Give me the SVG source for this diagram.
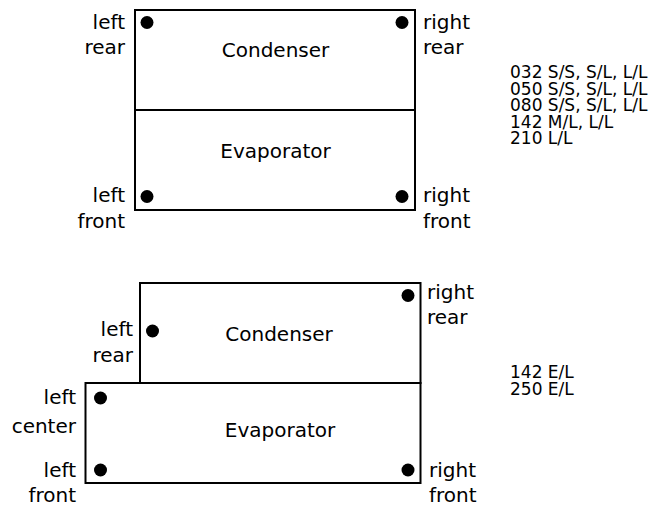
<svg xmlns="http://www.w3.org/2000/svg" width="658" height="506" viewBox="0 0 658 506">
<style>
.box{fill:#fff;stroke:#000;stroke-width:2}
.dot{fill:#000}
.t{font-family:"DejaVu Sans",Verdana,sans-serif;font-size:20px;fill:#000}
.r{text-anchor:end}
.m{text-anchor:middle}
.l{font-family:"DejaVu Sans",Verdana,sans-serif;font-size:17px;fill:#000}
</style>
<rect x="0" y="0" width="658" height="506" fill="#fff"/>
<g id="top-unit">
<rect class="box" x="135" y="10" width="280" height="200"/>
<line x1="135" y1="110" x2="415" y2="110" stroke="#000" stroke-width="2"/>
<text class="t m" x="275.5" y="57">Condenser</text>
<text class="t m" x="275.5" y="158">Evaporator</text>
<circle class="dot" cx="147" cy="22.5" r="6.5"/>
<circle class="dot" cx="402" cy="22.5" r="6.5"/>
<circle class="dot" cx="147" cy="196.5" r="6.5"/>
<circle class="dot" cx="402" cy="196.5" r="6.5"/>
<text class="t r" x="125" y="28.5">left</text>
<text class="t r" x="125" y="54">rear</text>
<text class="t" x="423" y="28.5">right</text>
<text class="t" x="423" y="54">rear</text>
<text class="t r" x="125" y="201.5">left</text>
<text class="t r" x="125" y="227.5">front</text>
<text class="t" x="423" y="201.5">right</text>
<text class="t" x="423" y="227.5">front</text>
</g>
<g id="top-models">
<text class="l" x="510" y="78">032 S/S, S/L, L/L</text>
<text class="l" x="510" y="94.5">050 S/S, S/L, L/L</text>
<text class="l" x="510" y="111">080 S/S, S/L, L/L</text>
<text class="l" x="510" y="127.5">142 M/L, L/L</text>
<text class="l" x="510" y="144">210 L/L</text>
</g>
<g id="bottom-unit">
<rect class="box" x="140" y="283" width="280.5" height="100"/>
<rect class="box" x="85.5" y="383" width="335" height="100"/>
<text class="t m" x="279" y="341">Condenser</text>
<text class="t m" x="280" y="437">Evaporator</text>
<circle class="dot" cx="408" cy="295.5" r="6.5"/>
<circle class="dot" cx="152.5" cy="331" r="6.5"/>
<circle class="dot" cx="100.5" cy="398" r="6.5"/>
<circle class="dot" cx="100.5" cy="470" r="6.5"/>
<circle class="dot" cx="408" cy="470" r="6.5"/>
<text class="t" x="427" y="299">right</text>
<text class="t" x="427" y="324">rear</text>
<text class="t r" x="133" y="336">left</text>
<text class="t r" x="133" y="361.5">rear</text>
<text class="t r" x="76" y="404">left</text>
<text class="t r" x="76" y="433">center</text>
<text class="t r" x="76" y="476.5">left</text>
<text class="t r" x="76" y="502">front</text>
<text class="t" x="429" y="476.5">right</text>
<text class="t" x="429" y="502">front</text>
</g>
<g id="bottom-models">
<text class="l" x="510" y="378">142 E/L</text>
<text class="l" x="510" y="394.5">250 E/L</text>
</g>
<g id="connectors"/>
</svg>
